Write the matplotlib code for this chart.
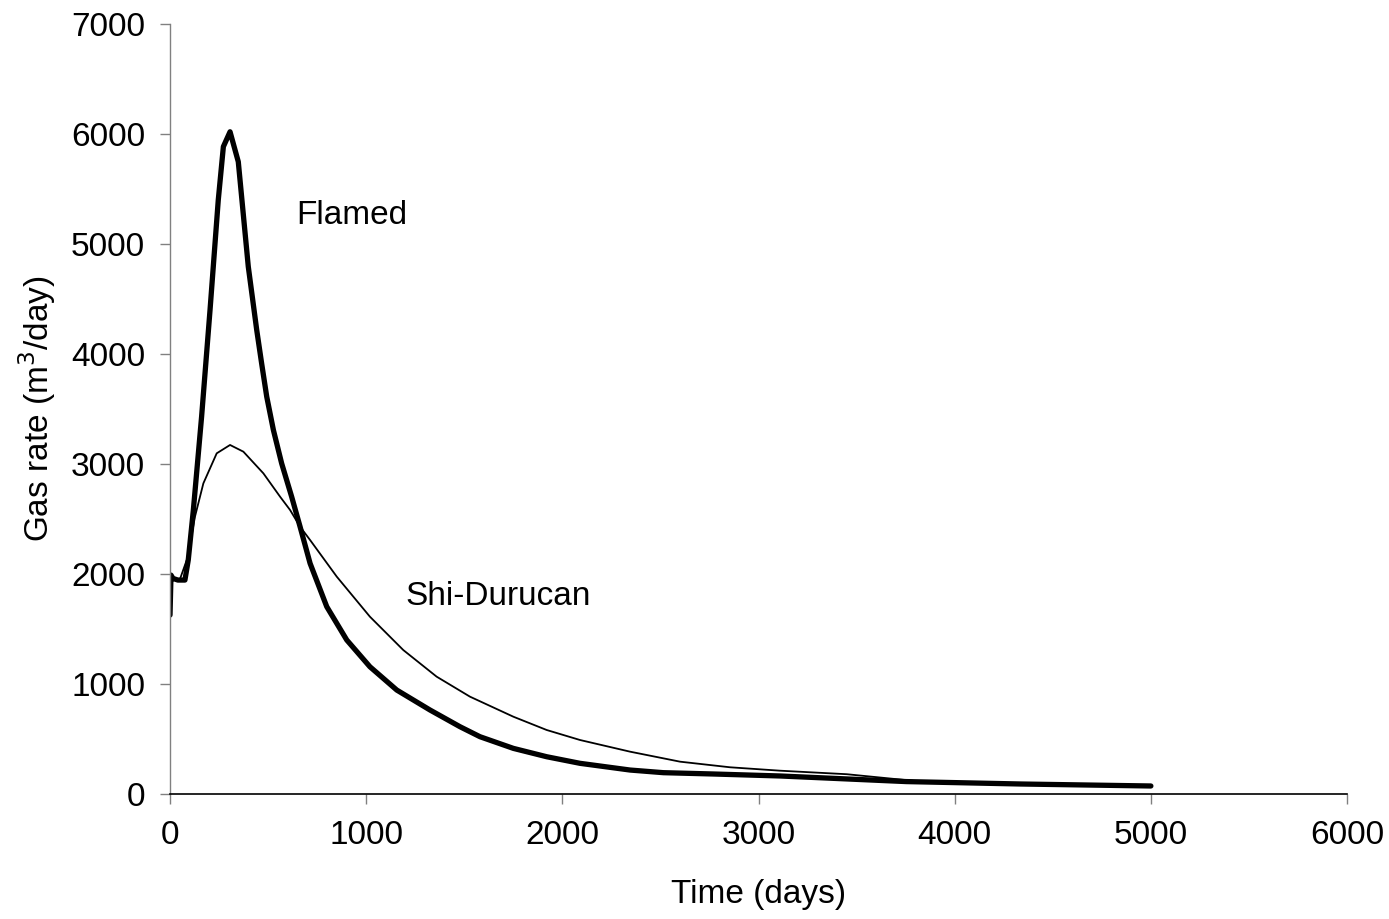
#!/usr/bin/env python3
"""Gas rate over time: flamed vs Shi-Durucan model."""
import matplotlib
matplotlib.use("Agg")
import matplotlib.pyplot as plt

plt.rcParams["font.family"] = ["Liberation Sans", "DejaVu Sans"]

# thick curve ("Flamed")
flamed_t = [0, 5, 15, 40, 76, 93, 119, 161, 204, 246, 272, 306, 348, 399,
            442, 467, 493, 527, 569, 620, 663, 714, 799, 901, 1019, 1156,
            1325, 1478, 1580, 1750, 1920, 2090, 2345, 2515, 2770, 3110,
            3753, 4338, 5000]
flamed_q = [1627, 1990, 1960, 1945, 1945, 2127, 2582, 3430, 4400, 5400,
            5885, 6020, 5748, 4794, 4218, 3915, 3612, 3309, 3006, 2703,
            2430, 2097, 1703, 1400, 1157, 945, 764, 612, 521, 415, 339,
            279, 218, 194, 182, 164, 113, 91, 73]

# thin curve ("Shi-Durucan")
shi_t = [0, 50, 90, 127, 170, 238, 306, 374, 476, 561, 612, 663, 714,
         850, 1019, 1189, 1359, 1529, 1750, 1920, 2090, 2345, 2600, 2855,
         3110, 3450, 3800, 4338, 5000]
shi_q = [1950, 1950, 2150, 2520, 2824, 3097, 3173, 3112, 2915, 2703, 2582,
         2430, 2309, 1976, 1612, 1309, 1067, 885, 703, 582, 491, 385, 294,
         243, 212, 180, 118, 91, 73]

FS = 24

fig = plt.figure(figsize=(13.89, 9.19), dpi=100)
ax = fig.add_axes([0.1224, 0.136, 0.8474, 0.8379])

ax.plot(shi_t, shi_q, color="black", lw=1.3, solid_joinstyle="round")
ax.plot(flamed_t, flamed_q, color="black", lw=3.8,
        solid_joinstyle="round", solid_capstyle="round")

ax.text(642, 5255, "Flamed", fontsize=FS, va="center", ha="left")
ax.text(1198, 1791, "Shi-Durucan", fontsize=FS, va="center", ha="left")

ax.set_xlim(0, 6000)
ax.set_ylim(0, 7000)
ax.set_xticks(range(0, 6001, 1000))
ax.set_yticks(range(0, 7001, 1000))
ax.tick_params(direction="out", length=7, width=1, colors="#808080",
               labelcolor="black", labelsize=FS)
ax.tick_params(axis="y", pad=11)
ax.tick_params(axis="x", pad=12)

for side in ("top", "right"):
    ax.spines[side].set_visible(False)
ax.spines["left"].set_color("#808080")
ax.spines["bottom"].set_color("black")
ax.spines["left"].set_linewidth(1)
ax.spines["bottom"].set_linewidth(1.2)

ax.set_xlabel("Time (days)", fontsize=FS, labelpad=20)
ax.set_ylabel("Gas rate (m$^3$/day)", fontsize=FS, labelpad=9)

fig.savefig("out.png", dpi=100)
